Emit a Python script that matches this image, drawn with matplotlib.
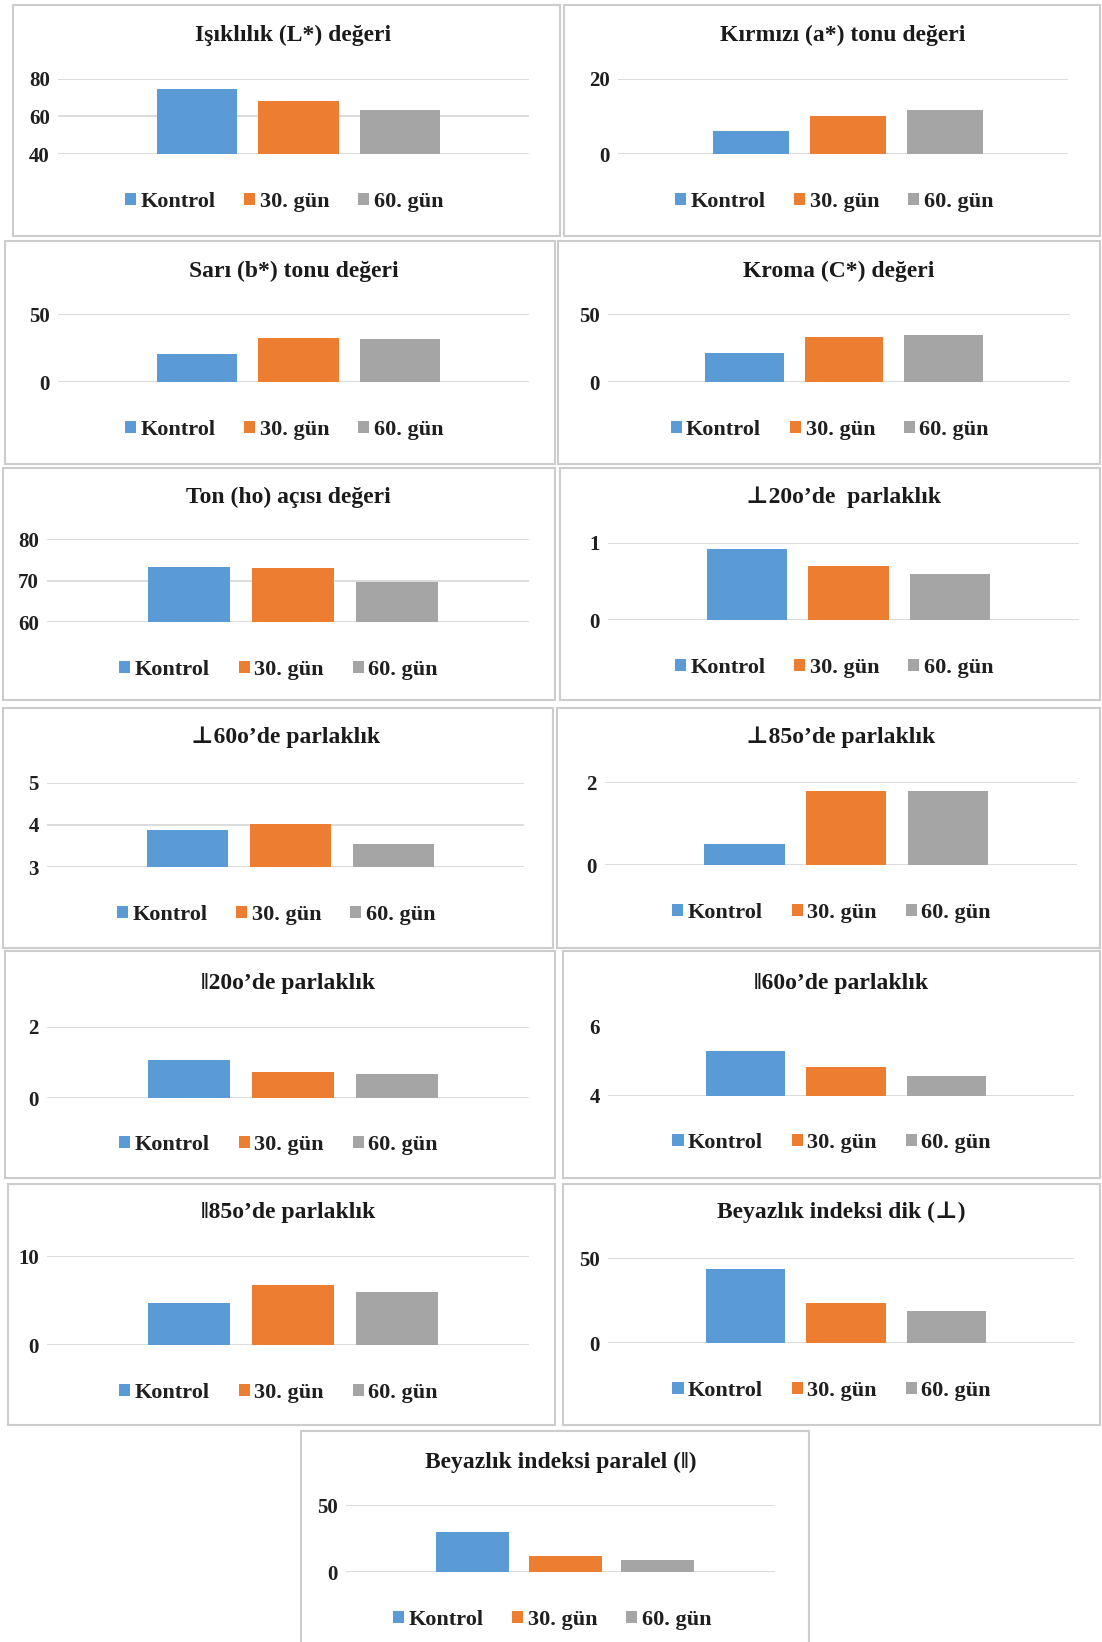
import matplotlib
matplotlib.use('Agg')
import matplotlib.pyplot as plt
from matplotlib.patches import Rectangle

plt.rcParams['font.family'] = ['Liberation Serif', 'DejaVu Serif']
plt.rcParams['font.weight'] = 'bold'

series = ['Kontrol', '30. gün', '60. gün']
colors = ['#5B9BD5', '#ED7D31', '#A5A5A5']

titles = [
    'Işıklılık (L*) değeri',
    'Kırmızı (a*) tonu değeri',
    'Sarı (b*) tonu değeri',
    'Kroma (C*) değeri',
    'Ton (ho) açısı değeri',
    '⊥20o’de  parlaklık',
    '⊥60o’de parlaklık',
    '⊥85o’de parlaklık',
    '‖20o’de parlaklık',
    '‖60o’de parlaklık',
    '‖85o’de parlaklık',
    'Beyazlık indeksi dik (⊥)',
    'Beyazlık indeksi paralel (‖)',
]
kontrol = [74.5, 6.0, 20.5, 21.5, 73.4, 0.92, 3.87, 0.50, 1.05, 5.28, 4.75, 43.8, 29.7]
gun30 = [68.0, 10.0, 32.0, 33.0, 73.0, 0.70, 4.02, 1.80, 0.74, 4.83, 6.75, 23.5, 11.9]
gun60 = [63.5, 11.7, 31.5, 34.5, 69.8, 0.59, 3.55, 1.80, 0.67, 4.58, 6.00, 18.7, 8.7]
yticks = [[40, 60, 80], [0, 20], [0, 50], [0, 50], [60, 70, 80], [0, 1], [3, 4, 5],
          [0, 2], [0, 2], [4, 6], [0, 10], [0, 50], [0, 50]]

# panel frames (x0, y0, x1, y1) in pixels from top-left
boxes = [(13, 5, 560, 236), (564, 5, 1100, 236),
         (5, 241, 555, 464), (558, 241, 1100, 464),
         (3, 468, 555, 700), (560, 468, 1100, 700),
         (3, 708, 553, 948), (557, 708, 1100, 948),
         (5, 951, 555, 1178), (563, 951, 1100, 1178),
         (8, 1184, 555, 1425), (563, 1184, 1100, 1425),
         (301, 1431, 809, 1646)]
# plot areas (left, right, top, bottom) in pixels
plots = [(58, 529, 78.6, 154), (618, 1068, 78.6, 154),
         (58, 529, 314, 382), (608, 1070, 314, 382),
         (47, 529, 539.5, 622), (608, 1079, 542.6, 620),
         (47, 524, 782.5, 867), (605, 1077, 782.5, 865),
         (47, 529, 1026.5, 1098), (608, 1074, 1026.5, 1095.7),
         (47, 529, 1256, 1345), (608, 1074, 1258, 1343),
         (346, 775, 1505, 1572)]
title_y = [35, 35, 271, 271, 497, 497, 737, 737, 983, 983, 1212, 1212, 1462]
legend_y = [202, 202, 430, 430, 670, 668, 915, 913, 1145, 1143, 1393, 1391, 1620]

W, H = 1102, 1642
fig = plt.figure(figsize=(W / 100, H / 100), dpi=100)

for i in range(len(titles)):
    x0, y0, x1, y1 = boxes[i]
    fig.add_artist(Rectangle((x0 / W, 1 - y1 / H), (x1 - x0) / W, (y1 - y0) / H,
                             transform=fig.transFigure, fill=False,
                             ec='#cccccc', lw=1.5))
    l, r, t, b = plots[i]
    ax = fig.add_axes([l / W, 1 - b / H, (r - l) / W, (b - t) / H])
    vals = [kontrol[i], gun30[i], gun60[i]]
    for j in range(3):
        ax.bar(j, vals[j], width=0.79, color=colors[j], label=series[j])
    ax.set_ylim(yticks[i][0], yticks[i][-1])
    ax.set_yticks(yticks[i])
    ax.set_xlim(1 - 2.37, 1 + 2.27)
    ax.set_xticks([])
    ax.yaxis.grid(True, color='#d9d9d9', lw=1.3)
    ax.set_axisbelow(True)
    for s in ax.spines.values():
        s.set_visible(False)
    ax.tick_params(axis='y', length=0, pad=6, labelsize=15, labelcolor='#1f1f1f')
    for lab in ax.get_yticklabels():
        lab.set_fontweight('bold')

    fig.text((l + r) / 2 / W, 1 - title_y[i] / H, titles[i], ha='center', va='center',
             fontsize=17, fontweight='bold', color='#1a1a1a')
    ly = (b - legend_y[i]) / (b - t)
    ax.legend(loc='center', bbox_to_anchor=(0.48, ly), ncol=3, frameon=False,
              handlelength=0.5, handleheight=0.5, handletextpad=0.2,
              columnspacing=1.3, prop={'size': 16, 'weight': 'bold'},
              labelcolor='#1f1f1f')

fig.savefig('out.png', dpi=100, facecolor='white')
